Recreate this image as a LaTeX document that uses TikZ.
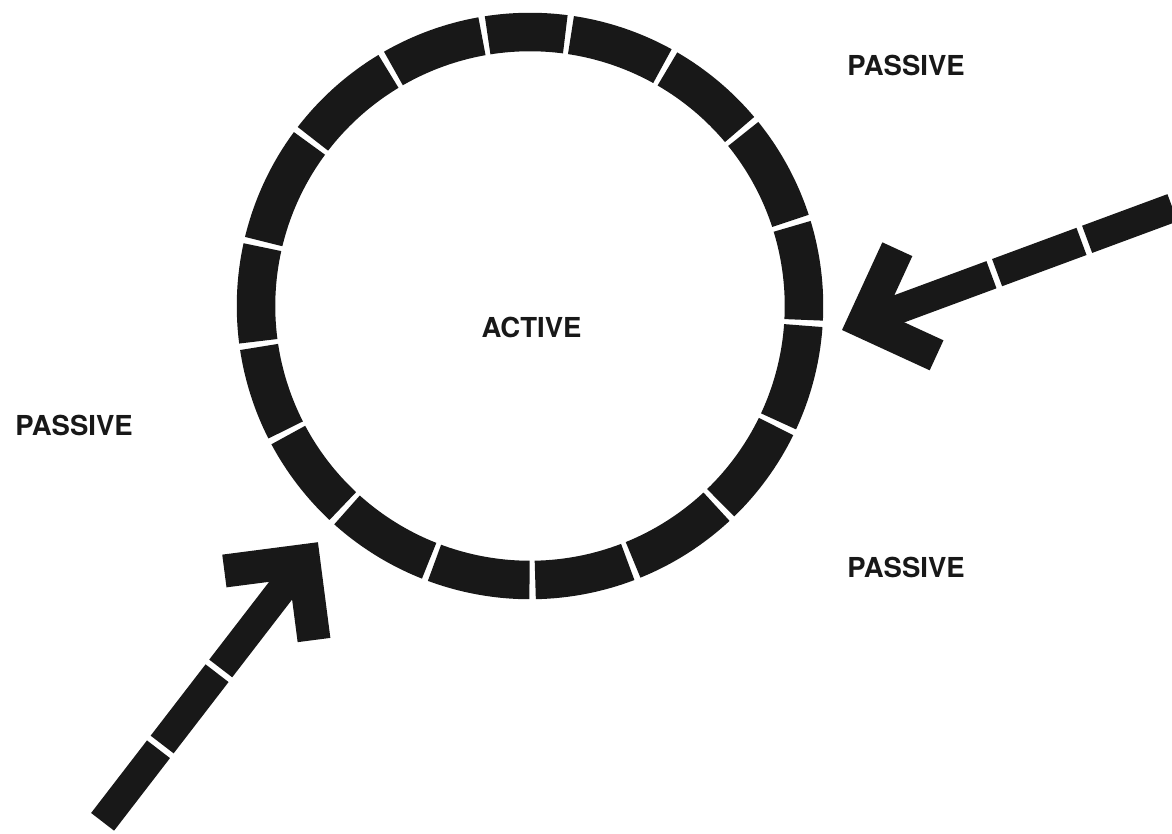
\documentclass[tikz,border=0pt]{standalone}
\usepackage{fontspec}
\setmainfont{TeX Gyre Heros}
\definecolor{InkBlack}{RGB}{24,24,24}
\usetikzlibrary{calc}

\begin{document}
\begin{tikzpicture}[x=1pt,y=1pt,
    ringseg/.style={draw=InkBlack,line width=38.5pt},
    shaftbar/.style={draw=InkBlack,line width=29pt,dash pattern=on 136pt off 6pt on 90pt off 6pt on 400pt},
    headbar/.style={draw=InkBlack,line width=33pt,line join=miter},
    lbl/.style={text=InkBlack,inner sep=0pt,font=\fontsize{27.5}{30}\selectfont\bfseries}]
    \useasboundingbox (0,0) rectangle (1172,833);
    % ring of 17 segments
    \coordinate (hub) at (530,527);
    \foreach \a/\b in {82/99.5,99.5/120.5,120.5/143,143/167,167/188,188/207.5,207.5/227.5,
        227.5/249,249/270.5,270.5/291.5,291.5/313.5,313.5/334.5,334.5/356.5,356.5/377.5,
        377.5/399.5,399.5/420.5,420.5/442}
      \draw[ringseg] ($(hub)+(\a+0.6:274)$) arc[start angle=\a+0.6,end angle=\b-0.6,radius=274];
    % labels
    \node[lbl] (active) at (531.5,505.5) {ACTIVE};
    \node[lbl] (passiveNE) at (906,768) {PASSIVE};
    \node[lbl] (passiveW) at (74,408) {PASSIVE};
    \node[lbl] (passiveSE) at (906,266) {PASSIVE};
    % east arrow
    \coordinate (eJoin) at (863.9,511.1);
    \coordinate (eTail) at ($(eJoin)+(20.3:329)$);
    \draw[shaftbar] (eJoin) -- (eTail);
    \draw[headbar] ($(eJoin)+(65.3:80)$) -- (eJoin) -- ($(eJoin)+(-24.7:80)$);
    % south-west arrow
    \coordinate (swJoin) at (303.7,272.3);
    \coordinate (swTail) at ($(swJoin)+(232.4:329.6)$);
    \draw[shaftbar] (swJoin) -- (swTail);
    \draw[headbar] ($(swJoin)+(187.4:80)$) -- (swJoin) -- ($(swJoin)+(277.4:80)$);
  \end{tikzpicture}
\end{document}
